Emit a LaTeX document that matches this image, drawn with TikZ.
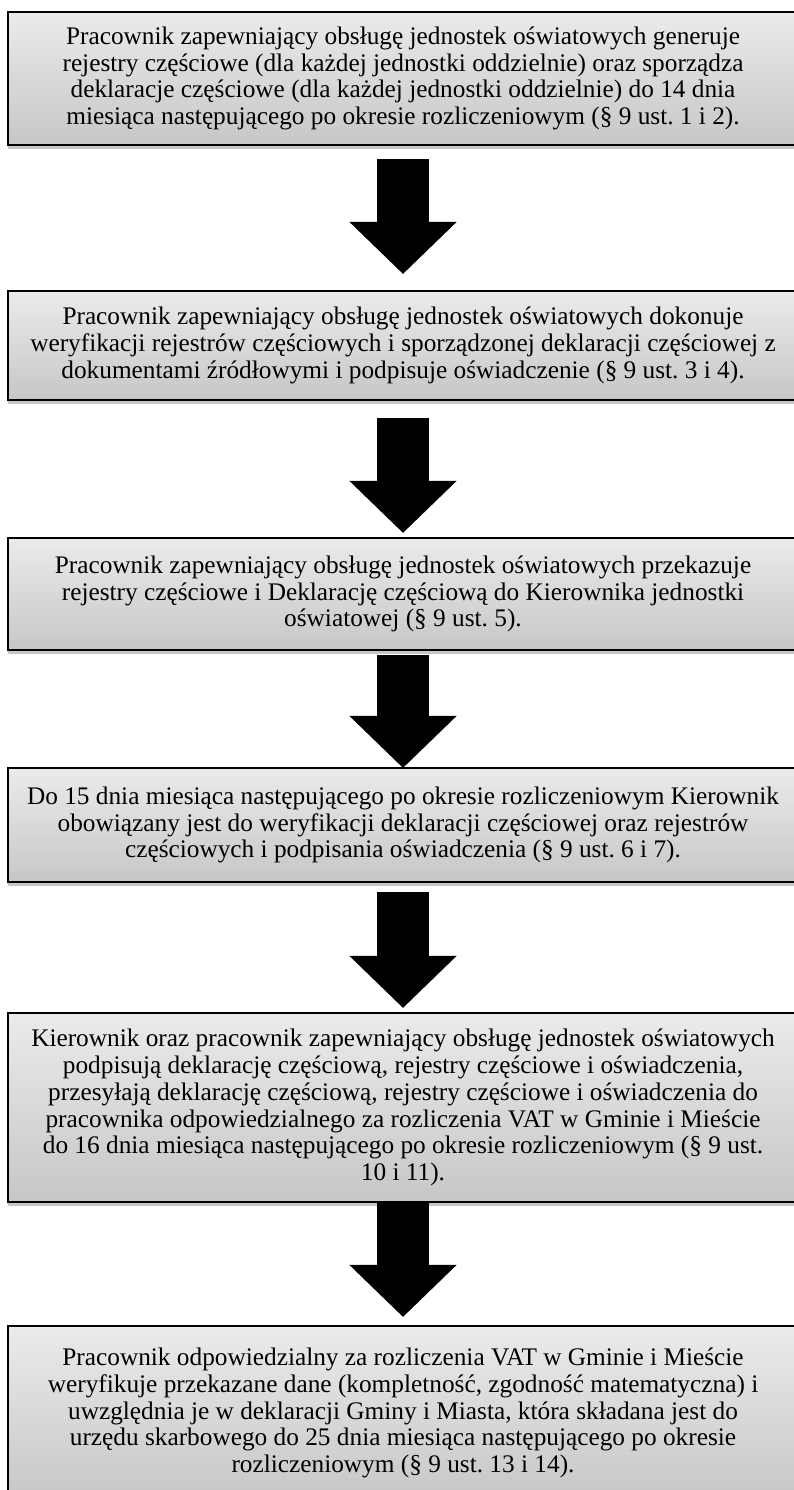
\documentclass[tikz,border=0pt]{standalone}
\usepackage{fontspec}
\setmainfont{Liberation Serif}
\usepackage{xcolor}
\usepackage{tikz}
\usetikzlibrary{arrows.meta, positioning, shadows}
\frenchspacing
\newlength\px
\setlength\px{0.03cm}
\tikzstyle{stepbox} = [rectangle, draw=black, line width=1.6pt, outer sep=0pt, minimum width=790\px, inner sep=2pt, align=center, top color=gray!16, bottom color=gray!44, drop shadow={shadow xshift=0pt, shadow yshift=-3pt, opacity=0.45}, font=\fontsize{21.6}{22.9}\selectfont]
\tikzstyle{bigarrow} = [line width=45pt, black, -{Triangle[width=88.8pt, length=44.4pt]}]

\begin{document}
\begin{tikzpicture}[x=1\px, y=-1\px]
    \useasboundingbox (0,0) rectangle (794,1490);
    \clip (0,0) rectangle (794,1490);
    % Steps
    \node[stepbox, minimum height=133\px] (b1) at (403,78.5) {Pracownik zapewniający obsługę jednostek oświatowych generuje\\
        rejestry częściowe (dla każdej jednostki oddzielnie) oraz sporządza\\
        deklaracje częściowe (dla każdej jednostki oddzielnie) do 14 dnia\\
        miesiąca następującego po okresie rozliczeniowym (§ 9 ust. 1 i 2).};
    
    \node[stepbox, minimum height=109\px, below=146\px of b1] (b2) {Pracownik zapewniający obsługę jednostek oświatowych dokonuje\\
        weryfikacji rejestrów częściowych i sporządzonej deklaracji częściowej z\\
        dokumentami źródłowymi i podpisuje oświadczenie (§ 9 ust. 3 i 4).};
    
    \node[stepbox, minimum height=112\px, below=138\px of b2] (b3) {Pracownik zapewniający obsługę jednostek oświatowych przekazuje\\
        rejestry częściowe i Deklarację częściową do Kierownika jednostki\\
        oświatowej (§ 9 ust. 5).};
    
    \node[stepbox, minimum height=114\px, below=118\px of b3] (b4) {Do 15 dnia miesiąca następującego po okresie rozliczeniowym Kierownik\\
        obowiązany jest do weryfikacji deklaracji częściowej oraz rejestrów\\
        częściowych i podpisania oświadczenia (§ 9 ust. 6 i 7).};
    
    \node[stepbox, minimum height=189\px, below=131\px of b4] (b5) {Kierownik oraz pracownik zapewniający obsługę jednostek oświatowych\\
        podpisują deklarację częściową, rejestry częściowe i oświadczenia,\\
        przesyłają deklarację częściową, rejestry częściowe i oświadczenia do\\
        pracownika odpowiedzialnego za rozliczenia VAT w Gminie i Mieście\\
        do 16 dnia miesiąca następującego po okresie rozliczeniowym (§ 9 ust.\\
        10 i 11).};
    
    \node[stepbox, minimum height=174\px, below=124\px of b5] (b6) {Pracownik odpowiedzialny za rozliczenia VAT w Gminie i Mieście\\
        weryfikuje przekazane dane (kompletność, zgodność matematyczna) i\\
        uwzględnia je w deklaracji Gminy i Miasta, która składana jest do\\
        urzędu skarbowego do 25 dnia miesiąca następującego po okresie\\
        rozliczeniowym (§ 9 ust. 13 i 14).};
    
    % Arrows
    \draw[bigarrow, shorten <=11.9pt, shorten >=14.5pt] (b1.south) -- (b2.north);
    \draw[bigarrow, shorten <=15.4pt, shorten >=4.3pt] (b2.south) -- (b3.north);
    \draw[bigarrow, shorten <=4.3pt, shorten >=0pt] (b3.south) -- (b4.north);
    \draw[bigarrow, shorten <=8.5pt, shorten >=4.3pt] (b4.south) -- (b5.north);
    \draw[bigarrow, shorten <=0pt, shorten >=7.7pt] (b5.south) -- (b6.north);
    
\end{tikzpicture}
\end{document}
